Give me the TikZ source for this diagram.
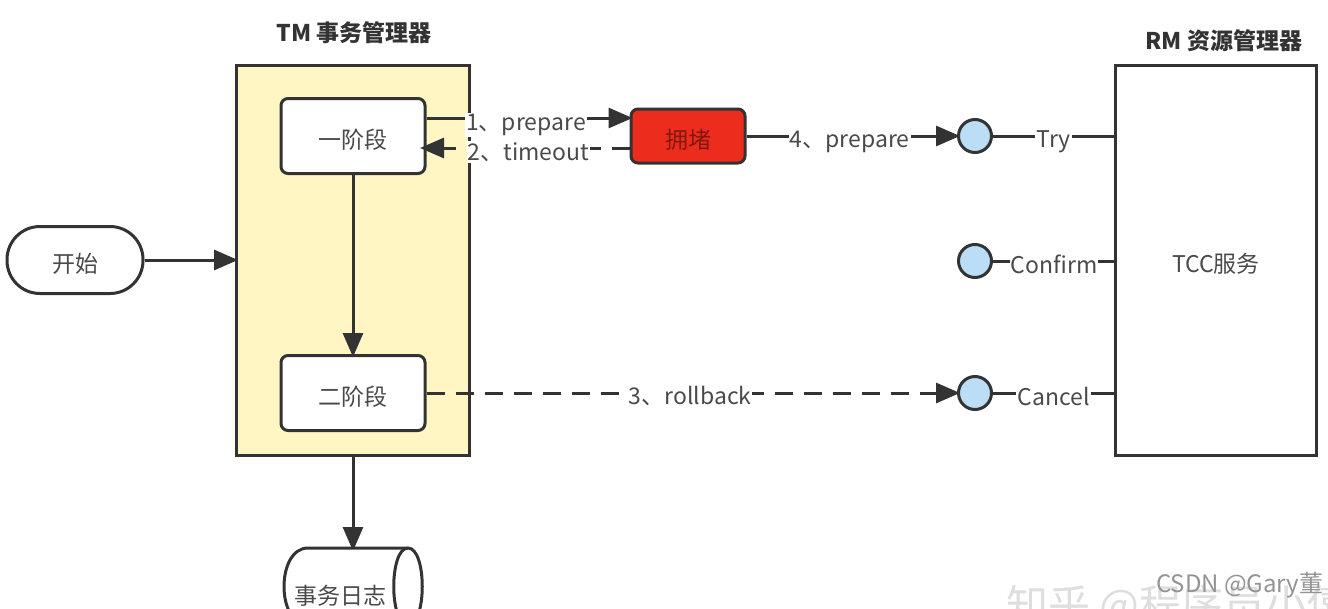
\documentclass[tikz,border=0pt]{standalone}
\usepackage{fontspec}
\setmainfont{Noto Sans CJK SC}
\usetikzlibrary{arrows.meta}
\definecolor{tmyellow}{HTML}{FFF6C4}
\definecolor{blockred}{HTML}{EC2C1C}
\definecolor{portblue}{HTML}{BBDDF6}
\definecolor{linegray}{HTML}{333333}
\definecolor{textgray}{HTML}{4A4A4A}
\tikzset{
  flow/.style={line width=3pt,draw=linegray,shorten >=-3pt,-{Triangle[length=24pt,width=20pt]}},
  flowdash/.style={flow,dash pattern=on 18pt off 11pt},
  plainline/.style={line width=3pt,draw=linegray},
  boxtext/.style={font=\fontsize{23}{26}\selectfont,text=textgray,text height=28pt,text depth=3pt},
  box/.style={draw=linegray,line width=3pt,fill=white,rounded corners=7pt,minimum width=144pt,minimum height=75pt,boxtext},
  port/.style={circle,draw=linegray,line width=3pt,fill=portblue,minimum size=33pt,inner sep=0pt},
  tag/.style={fill=white,inner sep=1pt,font=\fontsize{23}{26}\selectfont,text=textgray},
  head/.style={font=\fontsize{23}{26}\selectfont\bfseries,text=linegray}
}
\begin{document}
\begin{tikzpicture}[x=1pt,y=-1pt]
\clip (0,0) rectangle (1328,608);
\fill[white] (0,0) rectangle (1328,608);

\node[head] (tmhead) at (354,33) {TM 事务管理器};
\node[head] (rmhead) at (1224,41) {RM 资源管理器};

\node[draw=linegray,line width=3pt,fill=tmyellow,minimum width=233pt,minimum height=390pt] (tm) at (353,260) {};
\node[draw=linegray,line width=3pt,minimum width=201pt,minimum height=390pt,boxtext] (rm) at (1216,260) {TCC服务};

\node[box,rounded corners=33pt,minimum width=136pt,minimum height=67pt] (start) at (75,260) {开始};
\node[box] (one) at (353,136) {一阶段};
\node[box] (two) at (353,393) {二阶段};
\node[box,fill=blockred,minimum width=114pt,minimum height=54pt,text=blockred!55!black] (block) at (688,136) {拥堵};

\node[port] (try) at (975,136) {};
\node[port] (confirm) at (975,261) {};
\node[port] (cancel) at (975,393) {};

\coordinate (prepareout) at (one.east|-0,118);
\coordinate (preparein) at (block.west|-0,118);
\coordinate (timeoutout) at (block.west|-0,148);
\coordinate (timeoutin) at (423,148);

\draw[flow] (start) -- (tm.west|-start);
\draw[flow] (one) -- (two);
\draw[flow] (prepareout) -- (preparein) node[tag,pos=.49,yshift=-7pt] {1、prepare};
\draw[flowdash] (timeoutout) -- (timeoutin) node[tag,pos=.49,yshift=-4pt] {2、timeout};
\draw[flow] (block) -- (try) node[tag,pos=.49,yshift=-6pt] {4、prepare};
\draw[flowdash] (two) -- (cancel) node[tag,pos=.497,yshift=-3pt] {3、rollback};

\draw[plainline] (try) -- (rm.west|-try) node[tag,pos=.5,yshift=-6pt] {Try};
\draw[plainline] (confirm) -- (rm.west|-confirm) node[tag,pos=.505,yshift=-3pt] {Confirm};
\draw[plainline] (cancel) -- (rm.west|-cancel) node[tag,pos=.5,yshift=-3pt] {Cancel};

\coordinate (logtop) at (353,548);
\draw[flow] (tm.south) -- (logtop);
\draw[line width=3pt,draw=linegray,fill=white] (408,625) -- (308,625) .. controls (276,625) and (276,548) .. (308,548) -- (408,548) .. controls (427,548) and (427,625) .. (408,625);
\draw[line width=3pt,draw=linegray] (408,548) .. controls (389,548) and (389,625) .. (408,625);
\node[font=\fontsize{23}{26}\selectfont,text=textgray] (log) at (340,596) {事务日志};

\node[anchor=west,font=\fontsize{42}{46}\selectfont,text=black!13] (zhihu) at (1003,606) {知乎 @程序员小僖};
\node[anchor=east,font=\fontsize{24}{26}\selectfont,text=black!42] (csdn) at (1327,585) {CSDN @Gary董};
\end{tikzpicture}
\end{document}
